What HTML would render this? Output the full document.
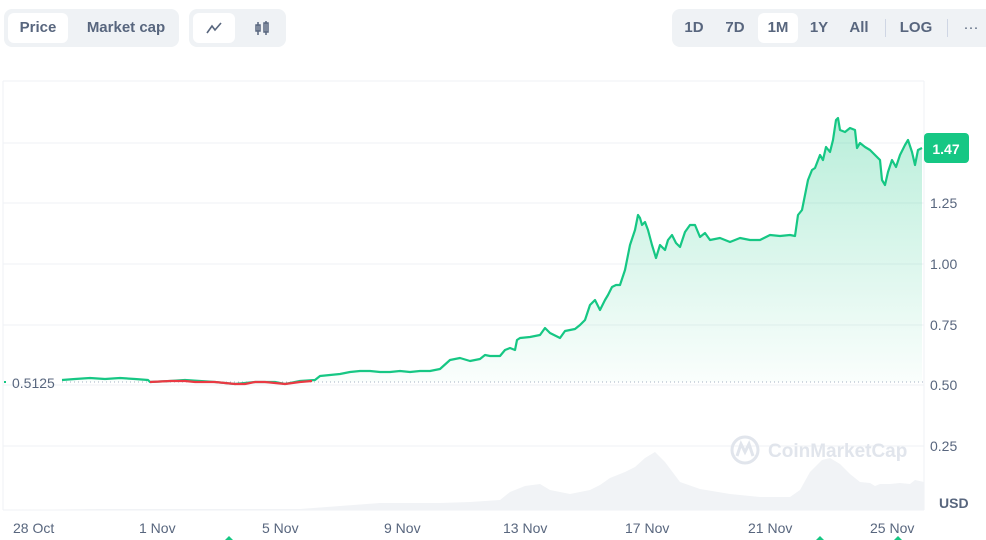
<!DOCTYPE html>
<html><head><style>
body{margin:0;width:986px;height:540px;background:#fff;font-family:"Liberation Sans",sans-serif;overflow:hidden;position:relative}
.grp{position:absolute;background:#eff2f5;border-radius:8px;height:38px;top:9px}
.btn{position:absolute;top:4px;height:30px;line-height:30px;font-size:15px;color:#58667e;font-weight:bold;text-align:center;border-radius:6px}
.on{background:#fff;color:#58667e}
.ax{position:absolute;font-size:14px;color:#58667e}
</style></head><body>
<div class="grp" style="left:4px;width:175px">
<div class="btn on" style="left:4px;width:60px">Price</div>
<div class="btn" style="left:72px;width:100px">Market cap</div></div>
<div class="grp" style="left:189px;width:97px">
<div class="btn on" style="left:4px;width:42px"><svg width="16" height="14" viewBox="0 0 16 14" style="margin-top:8px"><path d="M1 12 L6 5 L9 9 L15 2" fill="none" stroke="#58667e" stroke-width="1.6"/></svg></div>
<div class="btn" style="left:52px;width:42px"><svg width="16" height="16" viewBox="0 0 16 16" style="margin-top:7px"><rect x="2" y="5" width="4" height="6" fill="none" stroke="#58667e" stroke-width="1.5"/><rect x="10" y="3" width="4" height="9" fill="none" stroke="#58667e" stroke-width="1.5"/><path d="M4 2V15M12 1V15" stroke="#58667e" stroke-width="1.5"/></svg></div></div>
<div class="grp" style="left:672px;width:314px;border-radius:8px 0 0 8px">
<div class="btn" style="left:4px;width:36px">1D</div>
<div class="btn" style="left:44px;width:38px">7D</div>
<div class="btn on" style="left:86px;width:40px">1M</div>
<div class="btn" style="left:128px;width:38px">1Y</div>
<div class="btn" style="left:168px;width:38px">All</div>
<div style="position:absolute;left:213px;top:10px;width:1px;height:18px;background:#cfd6e4"></div>
<div class="btn" style="left:220px;width:48px">LOG</div>
<div style="position:absolute;left:275px;top:10px;width:1px;height:18px;background:#cfd6e4"></div>
<div class="btn" style="left:284px;width:30px;font-weight:normal">···</div></div>

<svg width="986" height="540" style="position:absolute;left:0;top:0">
<defs><linearGradient id="g" x1="0" y1="0" x2="0" y2="1"><stop offset="0" stop-color="#16c784" stop-opacity="0.3"/><stop offset="1" stop-color="#16c784" stop-opacity="0.02"/></linearGradient></defs>
<g stroke="#eff2f5" stroke-width="1">
<line x1="3" y1="81" x2="924" y2="81"/><line x1="3" y1="81" x2="3" y2="510"/><line x1="924" y1="81" x2="924" y2="510"/>
<line x1="3" y1="143" x2="924" y2="143"/><line x1="3" y1="203" x2="924" y2="203"/><line x1="3" y1="264" x2="924" y2="264"/><line x1="3" y1="325" x2="924" y2="325"/><line x1="3" y1="385" x2="924" y2="385"/><line x1="3" y1="446" x2="924" y2="446"/><line x1="3" y1="510" x2="924" y2="510"/>
</g>
<path d="M3 510 L100 509 L300 509 L340 506 L380 503 L440 503 L470 502 L500 500 L510 492 L525 486 L540 484 L550 490 L570 494 L590 490 L600 485 L610 478 L625 472 L635 467 L645 458 L655 452 L665 462 L680 482 L700 489 L730 494 L760 497 L790 497 L800 490 L810 472 L822 460 L830 458 L840 464 L850 474 L860 482 L870 483 L875 486 L880 484 L890 484 L900 483 L910 484 L915 480 L924 482 L924 510 Z" fill="#f1f3f6"/>
<line x1="62" y1="382" x2="924" y2="382" stroke="#a6b0c3" stroke-dasharray="1 3"/>
<path id="p" d="M62 380 L75 379 L90 378 L105 379 L120 378 L135 379 L148 380 L150 382 L170 381 L185 380 L200 381 L215 382 L225 383 L235 384 L245 383 L255 382 L265 382 L275 382 L285 384 L300 381 L315 380 L320 376 L330 375 L340 374 L350 372 L360 371 L370 371 L380 372 L390 372 L400 371 L410 372 L420 371 L430 371 L440 369 L450 360 L460 358 L470 361 L480 359 L485 355 L490 356 L500 356 L505 350 L510 348 L515 350 L517 340 L520 338 L530 337 L540 335 L545 328 L550 333 L560 338 L565 331 L575 329 L580 325 L585 320 L590 305 L595 300 L600 310 L605 300 L608 295 L612 287 L616 285 L620 285 L625 270 L630 245 L635 230 L638 215 L640 218 L642 225 L645 222 L648 230 L652 245 L656 258 L660 245 L665 250 L668 240 L672 235 L676 243 L680 247 L685 232 L690 225 L695 225 L700 237 L705 233 L710 240 L720 238 L730 242 L740 238 L750 240 L760 240 L770 235 L780 236 L790 235 L795 236 L798 215 L802 210 L805 195 L808 180 L812 170 L815 168 L820 155 L823 160 L826 147 L830 152 L833 140 L836 120 L838 118 L840 130 L845 132 L850 128 L855 130 L857 148 L860 143 L865 147 L870 150 L875 155 L880 160 L882 180 L885 185 L888 172 L892 160 L896 167 L900 155 L905 145 L908 140 L912 152 L915 165 L918 150 L922 148" fill="none" stroke="#16c784" stroke-width="2.2" stroke-linejoin="round"/>
<path d="M62 380 L75 379 L90 378 L105 379 L120 378 L135 379 L148 380 L150 382 L170 381 L185 380 L200 381 L215 382 L225 383 L235 384 L245 383 L255 382 L265 382 L275 382 L285 384 L300 381 L315 380 L320 376 L330 375 L340 374 L350 372 L360 371 L370 371 L380 372 L390 372 L400 371 L410 372 L420 371 L430 371 L440 369 L450 360 L460 358 L470 361 L480 359 L485 355 L490 356 L500 356 L505 350 L510 348 L515 350 L517 340 L520 338 L530 337 L540 335 L545 328 L550 333 L560 338 L565 331 L575 329 L580 325 L585 320 L590 305 L595 300 L600 310 L605 300 L608 295 L612 287 L616 285 L620 285 L625 270 L630 245 L635 230 L638 215 L640 218 L642 225 L645 222 L648 230 L652 245 L656 258 L660 245 L665 250 L668 240 L672 235 L676 243 L680 247 L685 232 L690 225 L695 225 L700 237 L705 233 L710 240 L720 238 L730 242 L740 238 L750 240 L760 240 L770 235 L780 236 L790 235 L795 236 L798 215 L802 210 L805 195 L808 180 L812 170 L815 168 L820 155 L823 160 L826 147 L830 152 L833 140 L836 120 L838 118 L840 130 L845 132 L850 128 L855 130 L857 148 L860 143 L865 147 L870 150 L875 155 L880 160 L882 180 L885 185 L888 172 L892 160 L896 167 L900 155 L905 145 L908 140 L912 152 L915 165 L918 150 L922 148 L922 382 L62 382 Z" fill="url(#g)"/>
<path d="M150 382 L170 381 L185 381 L195 382 L215 382 L225 383 L235 384 L245 384 L255 382 L265 382 L275 383 L285 384 L300 382 L312 381" fill="none" stroke="#ea3943" stroke-width="2.2"/>
<rect x="924" y="133" width="45" height="30" rx="4" fill="#16c784"/>
<text x="946" y="154" font-size="14" font-weight="bold" fill="#fff" text-anchor="middle" font-family="Liberation Sans">1.47</text>
<circle cx="745" cy="450" r="13" fill="none" stroke="#e1e5ec" stroke-width="3"/>
<path d="M737 456 L741 444 L745 452 L749 444 L753 456" fill="none" stroke="#e1e5ec" stroke-width="3"/>
<text x="768" y="457" font-size="19" font-weight="bold" fill="#e1e5ec" font-family="Liberation Sans">CoinMarketCap</text>
<g fill="#16c784"><path d="M229 536 L235 542 L223 542 Z"/><path d="M820 536 L826 542 L814 542 Z"/><path d="M898 536 L904 542 L892 542 Z"/></g>
<rect x="4" y="381" width="2" height="2" fill="#16c784"/>
</svg>
<div class="ax" style="left:12px;top:375px;color:#58667e">0.5125</div>
<div class="ax" style="left:930px;top:195px">1.25</div>
<div class="ax" style="left:930px;top:256px">1.00</div>
<div class="ax" style="left:930px;top:317px">0.75</div>
<div class="ax" style="left:930px;top:377px">0.50</div>
<div class="ax" style="left:930px;top:438px">0.25</div>
<div class="ax" style="left:939px;top:495px;font-weight:bold">USD</div>
<div class="ax" style="left:13px;top:520px">28 Oct</div>
<div class="ax" style="left:139px;top:520px">1 Nov</div>
<div class="ax" style="left:262px;top:520px">5 Nov</div>
<div class="ax" style="left:384px;top:520px">9 Nov</div>
<div class="ax" style="left:503px;top:520px">13 Nov</div>
<div class="ax" style="left:625px;top:520px">17 Nov</div>
<div class="ax" style="left:748px;top:520px">21 Nov</div>
<div class="ax" style="left:870px;top:520px">25 Nov</div>
</body></html>
